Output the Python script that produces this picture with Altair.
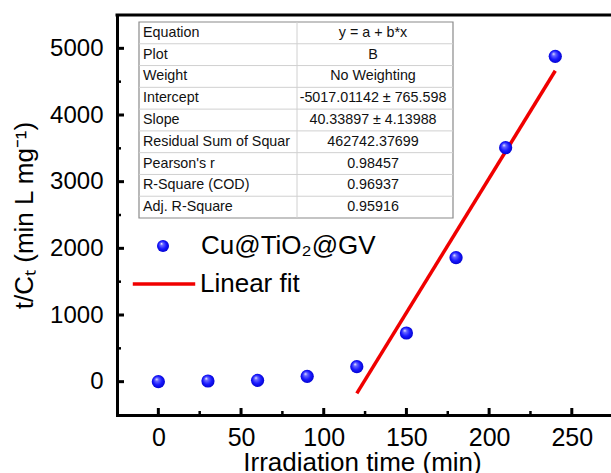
import altair as alt
import pandas as pd

# ---------------- data ----------------
time_min = [0, 30, 60, 90, 120, 150, 180, 210, 240]
t_over_ct = [0, 10, 20, 80, 225, 730, 1860, 3510, 4880]
fit_x = [120, 240]
fit_y = [-176, 4664]

x_major = [0, 50, 100, 150, 200, 250]
x_minor = [25, 75, 125, 175, 225]
y_major = [0, 1000, 2000, 3000, 4000, 5000]
y_minor = [500, 1500, 2500, 3500, 4500]

table_labels = ["Equation", "Plot", "Weight", "Intercept", "Slope",
                "Residual Sum of Squar", "Pearson's r", "R-Square (COD)",
                "Adj. R-Square"]
table_values = ["y = a + b*x", "B", "No Weighting", "-5017.01142 ± 765.598",
                "40.33897 ± 4.13988", "462742.37699", "0.98457", "0.96937",
                "0.95916"]

series_name = "Cu@TiO₂@GV"
fit_name = "Linear fit"

# ---------------- layout ----------------
W, H = 494, 400
X_DOMAIN = [-25, 273.7]
Y_DOMAIN = [-500, 5500]
FONT = "Liberation Sans"

TL, TR, TT, TB, TD = 22, 336, 7, 203, 180
ROW_H = (TB - TT) / len(table_labels)

xs = alt.Scale(domain=X_DOMAIN, nice=False, zero=False)
ys = alt.Scale(domain=Y_DOMAIN, nice=False, zero=False)

x_axis = alt.Axis(values=x_major, ticks=False, tickSize=0, grid=False,
                  domainWidth=3, domainColor="black", domainCap="square",
                  labelFontSize=25, labelFont=FONT, labelColor="black",
                  labelPadding=10, labelFlush=False, format="d",
                  title="Irradiation time (min)", titleFontSize=26,
                  titleFont=FONT, titleFontWeight="normal", titleColor="black",
                  titleBaseline="alphabetic", titleY=55, titleX=W / 2 - 2)
y_axis = alt.Axis(values=y_major, ticks=False, tickSize=0, grid=False,
                  domainWidth=3, domainColor="black", domainCap="square",
                  labelFontSize=24, labelFont=FONT, labelColor="black",
                  labelPadding=14, labelFlush=False, format="d",
                  title="t/Cₜ (min L mg⁻¹)", titleFontSize=26, titleFont=FONT,
                  titleFontWeight="normal", titleColor="black",
                  titleAngle=270, titleBaseline="alphabetic",
                  titleX=-85, titleY=H / 2)

pts_df = pd.DataFrame({"t": time_min, "v": t_over_ct, "s": series_name})
fit_df = pd.DataFrame({"t": fit_x, "v": fit_y, "s": fit_name})

ball = alt.RadialGradient(
    gradient="radial", x1=0.36, y1=0.3, r1=0.0, x2=0.5, y2=0.5, r2=0.55,
    stops=[alt.GradientStop(color="#ffffff", offset=0.0),
           alt.GradientStop(color="#6a6aff", offset=0.22),
           alt.GradientStop(color="#1818ff", offset=0.6),
           alt.GradientStop(color="#0000c8", offset=1.0)])

points = alt.Chart(pts_df).mark_point(filled=True, size=175, opacity=1,
                                      color=ball).encode(
    x=alt.X("t:Q", scale=xs, axis=x_axis),
    y=alt.Y("v:Q", scale=ys, axis=y_axis),
    shape=alt.Shape("s:N", scale=alt.Scale(domain=[series_name], range=["circle"]),
                    legend=alt.Legend(title=None, orient="none", legendX=33,
                                      legendY=218, labelFontSize=26,
                                      labelFont=FONT, labelColor="black",
                                      labelLimit=0,
                                      symbolSize=144, symbolFillColor="#1212ee",
                                      symbolStrokeWidth=0, labelOffset=25,
                                      padding=0)),
)

fit = alt.Chart(fit_df).mark_line(strokeWidth=3.5, strokeCap="butt").encode(
    x=alt.X("t:Q", scale=xs, axis=x_axis),
    y=alt.Y("v:Q", scale=ys, axis=y_axis),
    color=alt.Color("s:N", scale=alt.Scale(domain=[fit_name], range=["#f00000"]),
                    legend=alt.Legend(title=None, orient="none", legendX=14,
                                      legendY=236, labelFontSize=26,
                                      labelFont=FONT, labelColor="black",
                                      labelLimit=0,
                                      symbolType="stroke", symbolSize=3900,
                                      symbolStrokeWidth=3.5, labelOffset=3,
                                      padding=0)),
)

# inward ticks
xt_major = alt.Chart(pd.DataFrame({"t": x_major})).mark_rule(
    color="black", strokeWidth=3).encode(
    x=alt.X("t:Q", scale=xs, axis=x_axis), y=alt.value(H), y2=alt.value(H - 7))
xt_minor = alt.Chart(pd.DataFrame({"t": x_minor})).mark_rule(
    color="black", strokeWidth=2.5).encode(
    x=alt.X("t:Q", scale=xs, axis=x_axis), y=alt.value(H), y2=alt.value(H - 4))
yt_major = alt.Chart(pd.DataFrame({"v": y_major})).mark_rule(
    color="black", strokeWidth=3).encode(
    y=alt.Y("v:Q", scale=ys, axis=y_axis), x=alt.value(0), x2=alt.value(7))
yt_minor = alt.Chart(pd.DataFrame({"v": y_minor})).mark_rule(
    color="black", strokeWidth=2.5).encode(
    y=alt.Y("v:Q", scale=ys, axis=y_axis), x=alt.value(0), x2=alt.value(4))

top_line = alt.Chart(pd.DataFrame({"k": [0]})).mark_rule(
    color="black", strokeWidth=3).encode(
    x=alt.value(-1.5), x2=alt.value(W), y=alt.value(0))

# inset results table
tbl = pd.DataFrame({"label": table_labels, "value": table_values,
                    "row": list(range(len(table_labels)))})
tbl["py"] = TT + (tbl["row"] + 0.5) * ROW_H
sep = pd.DataFrame({"py": [TT + k * ROW_H for k in range(1, len(table_labels))]})

t_rect = alt.Chart(pd.DataFrame({"k": [0]})).mark_rect(
    fill="white", stroke="#8a8a8a", strokeWidth=1.2).encode(
    x=alt.value(TL), x2=alt.value(TR), y=alt.value(TT), y2=alt.value(TB))
t_sep = alt.Chart(sep).mark_rule(color="#d0d0d0", strokeWidth=1).encode(
    y=alt.Y("py:Q", scale=None, axis=None), x=alt.value(TL), x2=alt.value(TR))
t_div = alt.Chart(pd.DataFrame({"k": [0]})).mark_rule(
    color="#d0d0d0", strokeWidth=1).encode(
    x=alt.value(TD), y=alt.value(TT), y2=alt.value(TB))
t_lab = alt.Chart(tbl).mark_text(align="left", baseline="middle", fontSize=14.3,
                                 font=FONT, color="#111111").encode(
    x=alt.value(TL + 4), y=alt.Y("py:Q", scale=None, axis=None), text="label:N")
t_val = alt.Chart(tbl).mark_text(align="center", baseline="middle", fontSize=14.3,
                                 font=FONT, color="#111111").encode(
    x=alt.value((TD + TR) / 2 - 2), y=alt.Y("py:Q", scale=None, axis=None),
    text="value:N")

chart = alt.layer(
    xt_major, xt_minor, yt_major, yt_minor, top_line,
    fit, points,
    t_rect, t_sep, t_div, t_lab, t_val,
).properties(
    width=W, height=H,
    padding={"left": 117, "top": 15, "right": 0, "bottom": 58},
    autosize=alt.AutoSizeParams(type="none"),
    background="white",
).configure_view(stroke=None)

chart.save("out.html", embed_options={"renderer": "svg", "actions": False})
